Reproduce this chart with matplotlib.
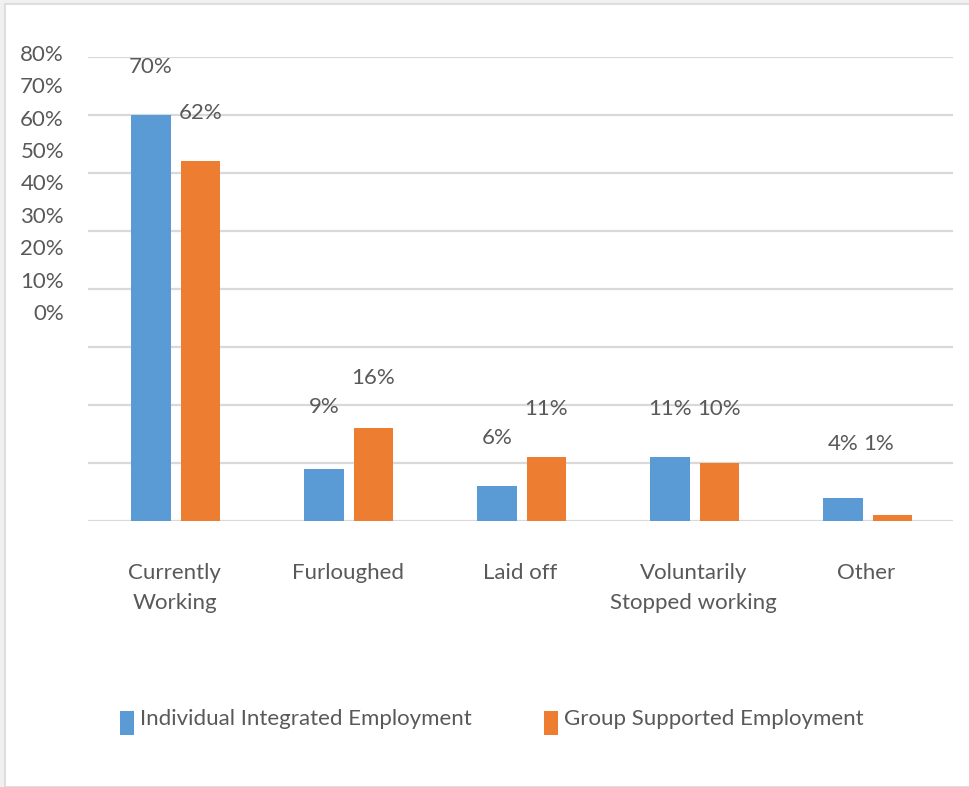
import numpy as np
import matplotlib
matplotlib.use("Agg")
import matplotlib.pyplot as plt
from matplotlib.patches import Rectangle

plt.rcParams['font.family'] = ['Lato', 'DejaVu Sans']

# data
categories = ["Currently\nWorking", "Furloughed", "Laid off", "Voluntarily\nStopped working", "Other"]
iie_values = [70, 9, 6, 11, 4]   # Individual Integrated Employment
gse_values = [62, 16, 11, 10, 1]  # Group Supported Employment
series_names = ["Individual Integrated Employment", "Group Supported Employment"]
y_ticks = [0, 10, 20, 30, 40, 50, 60, 70, 80]

# extra shifts for some data labels (Excel placed them a bit off)
iie_nudge = [0, 2.4, 0, 0, 1.0]
gse_nudge = [0, 0.4, 0, 1.0, 4.0]
gse_xnudge = [0, 0, 0, 0, -0.08]

BLUE = "#5b9bd5"
ORANGE = "#ed7d31"
TXT = "#595959"
GRID = "#d9d9d9"
FS = 16

W, H = 969, 787
fig = plt.figure(figsize=(W / 100, H / 100), dpi=100)
fig.patch.set_facecolor("#f0f0f0")

# white chart area with thin border
fig.patches.append(Rectangle((5 / W, 0), 1, (H - 4) / H, transform=fig.transFigure,
                             facecolor="white", edgecolor=GRID, linewidth=1.2, zorder=-10))

def px_box(x0, y0, x1, y1):
    return [x0 / W, (H - y1) / H, (x1 - x0) / W, (y1 - y0) / H]

ax = fig.add_axes(px_box(88, 57, 953, 521))
ax.set_facecolor("none")

x = np.arange(len(categories))
bw = 0.228
off = 0.143
sh = 0.006
ax.bar(x - off + sh, iie_values, bw, color=BLUE, zorder=3)
ax.bar(x + off + sh, gse_values, bw, color=ORANGE, zorder=3)

ax.set_xlim(-0.5, len(categories) - 0.5)
ax.set_ylim(0, 80)
ax.set_yticks(y_ticks)
ax.yaxis.grid(True, color=GRID, linewidth=1.6, zorder=0)
ax.set_axisbelow(True)
ax.tick_params(axis="y", left=False, labelleft=False)
ax.tick_params(axis="x", bottom=False, pad=27, labelsize=FS, colors=TXT)
ax.set_xticks(x)
ax.set_xticklabels(categories, linespacing=1.6)
for s in ax.spines.values():
    s.set_visible(False)

# data labels
for i in range(len(categories)):
    ax.text(x[i] - off + sh, iie_values[i] + 8.3 + iie_nudge[i], f"{iie_values[i]}%",
            ha="center", va="center", fontsize=FS, color=TXT)
    ax.text(x[i] + off + sh + gse_xnudge[i], gse_values[i] + 8.3 + gse_nudge[i], f"{gse_values[i]}%",
            ha="center", va="center", fontsize=FS, color=TXT)

# the y tick labels sit squeezed in the upper part, as in the source
ax2 = fig.add_axes(px_box(64, 53, 65, 312))
ax2.set_ylim(0, 80)
ax2.set_yticks(y_ticks)
ax2.set_yticklabels([f"{t}%" for t in y_ticks])
ax2.tick_params(axis="y", length=0, pad=0, labelsize=FS, colors=TXT)
ax2.set_xticks([])
ax2.patch.set_visible(False)
for s in ax2.spines.values():
    s.set_visible(False)

# legend
for (x0, name, col) in [(120, series_names[0], BLUE), (544, series_names[1], ORANGE)]:
    fig.patches.append(Rectangle((x0 / W, (H - 735) / H), 14 / W, 24 / H,
                                 transform=fig.transFigure, facecolor=col, edgecolor="none"))
    fig.text((x0 + 20) / W, (H - 719) / H, name, ha="left", va="center",
             fontsize=FS, color=TXT)

fig.savefig("out.png", dpi=100)
